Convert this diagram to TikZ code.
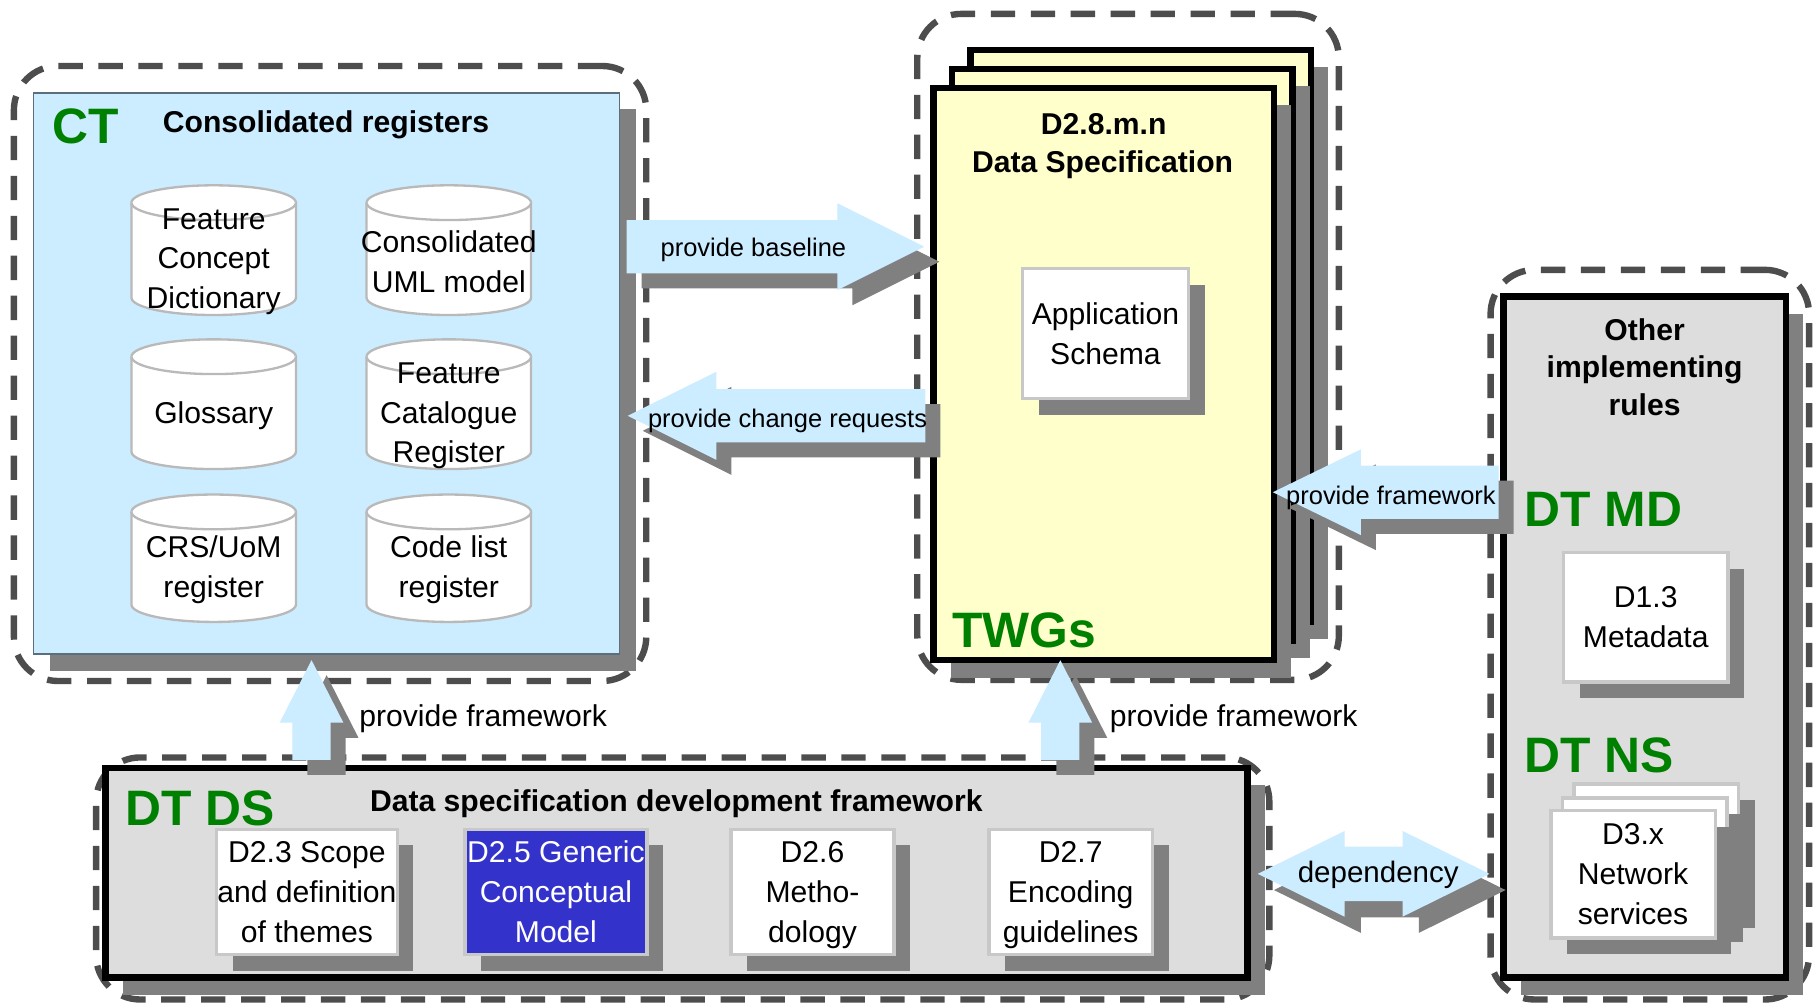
\documentclass[tikz,border=0pt]{standalone}
\usepackage{fontspec}
\setmainfont{Liberation Sans}
\usetikzlibrary{calc,shadows}
\definecolor{ctblue}{RGB}{204,236,255}
\definecolor{arrblue}{RGB}{204,236,255}
\definecolor{ctborder}{RGB}{90,110,125}
\definecolor{shgray}{RGB}{128,128,128}
\definecolor{dashgray}{RGB}{77,77,77}
\definecolor{boxgray}{RGB}{221,221,221}
\definecolor{pageyellow}{RGB}{255,255,204}
\definecolor{dsblue}{RGB}{51,51,204}
\definecolor{lbord}{RGB}{200,200,200}
\definecolor{cylbord}{RGB}{185,185,185}
\definecolor{grn}{RGB}{0,128,0}
\newcommand{\txt}{\fontsize{26}{34.5}\selectfont}
\newcommand{\btxt}{\fontsize{26}{32.5}\selectfont\bfseries}
\newcommand{\atxt}{\fontsize{22}{26}\selectfont}
\newcommand{\dtxt}{\fontsize{25.5}{30}\selectfont}
\newcommand{\gtxt}{\fontsize{43}{50}\selectfont\bfseries}

% single block arrow: #1 id, #2 tail, #3 tip, #4 body half, #5 head half, #6 head length, #7 style
\newcommand{\barrowpath}[7]{%
  \coordinate (#1h) at ($(#3)!#6!(#2)$);
  \path[#7] ($(#2)!#4!90:(#3)$) -- ($(#1h)!#4!90:(#3)$) -- ($(#1h)!#5!90:(#3)$) -- (#3)
    -- ($(#1h)!#5!-90:(#3)$) -- ($(#1h)!#4!-90:(#3)$) -- ($(#2)!#4!-90:(#3)$) -- cycle;}
\newcommand{\blockarrow}[6]{%
  \coordinate (#1ts) at ($(#2)+(13,13)$);
  \coordinate (#1ps) at ($(#3)+(13,13)$);
  \barrowpath{#1s}{#1ts}{#1ps}{#4}{#5}{#6}{fill=shgray}
  \barrowpath{#1}{#2}{#3}{#4}{#5}{#6}{fill=arrblue}}
% double block arrow
\newcommand{\dblpath}[7]{%
  \coordinate (#1a) at ($(#2)!#6!(#3)$);
  \coordinate (#1b) at ($(#3)!#6!(#2)$);
  \path[#7] (#2) -- ($(#1a)!#5!90:(#3)$) -- ($(#1a)!#4!90:(#3)$) -- ($(#1b)!#4!-90:(#2)$)
    -- ($(#1b)!#5!-90:(#2)$) -- (#3) -- ($(#1b)!#5!90:(#2)$) -- ($(#1b)!#4!90:(#2)$)
    -- ($(#1a)!#4!-90:(#3)$) -- ($(#1a)!#5!-90:(#3)$) -- cycle;}
% cylinder: #1 name, #2 centre x, #3 top, #4 bottom, #5 text
\newcommand{\regcyl}[5]{%
  \pgfmathsetmacro{\cylL}{#2-71}\pgfmathsetmacro{\cylR}{#2+71}%
  \pgfmathsetmacro{\cylT}{#3+15}\pgfmathsetmacro{\cylB}{#4-15}%
  \pgfmathsetmacro{\cylM}{(#3+#4)/2+10}%
  \filldraw[cylst] (\cylL,\cylT) -- (\cylL,\cylB) arc[start angle=180,end angle=0,x radius=71,y radius=15]
    -- (\cylR,\cylT) arc[start angle=0,end angle=-180,x radius=71,y radius=15] -- cycle;
  \draw[cylst] (\cylL,\cylT) arc[start angle=180,end angle=0,x radius=71,y radius=15];
  \node[cyltext] (#1) at (#2,\cylM) {#5};}

\begin{document}
\begin{tikzpicture}[x=1pt,y=-1pt,
  frame/.style={draw=dashgray,line width=5.5pt,dash pattern=on 21pt off 13.5pt,rounded corners=38pt,inner sep=0pt},
  sh/.style={drop shadow={shadow xshift=#1,shadow yshift=-#1,opacity=1,fill=shgray}},
  sz/.style 2 args={minimum width=#1,minimum height=#2},
  wbox/.style={draw=lbord,line width=3pt,fill=white,inner sep=0pt,align=center,font=\txt,sh=14pt},
  page/.style={draw=black,line width=5.5pt,fill=pageyellow,inner sep=0pt,sz={294pt}{494pt},sh=15pt},
  bigbox/.style={draw=black,line width=5.5pt,fill=boxgray,inner sep=0pt,sh=15pt},
  lbl/.style={inner sep=0pt,font=\txt},
  albl/.style={inner sep=0pt,font=\atxt},
  blbl/.style={inner sep=0pt,font=\btxt,align=center},
  glbl/.style={inner sep=0pt,font=\gtxt,text=grn,anchor=base west},
  cylst/.style={draw=cylbord,line width=2pt,fill=white},
  cyltext/.style={inner sep=0pt,font=\txt,align=center}]

\useasboundingbox (0,0) rectangle (1568,866);
\fill[white] (0,0) rectangle (1568,866);

% dashed group frames
\node[frame,sz={546pt}{531pt}] (ctframe) at (285,322.5) {};
\node[frame,sz={364pt}{575pt}] (twgframe) at (974,299.5) {};
\node[frame,sz={275pt}{630pt}] (oirframe) at (1424.5,548) {};
\node[frame,sz={1013pt}{209pt}] (dsframe) at (589.5,758.5) {};

% CT
\node[draw=ctborder,line width=1.5pt,fill=ctblue,inner sep=0pt,sz={506pt}{485pt},sh=14pt] (ct) at (282,322.5) {};
\node[glbl] (ctlbl) at (45,124) {CT};
\node[blbl,anchor=base] (cttitle) at (281.5,114) {Consolidated registers};
\regcyl{fcd}{184.5}{160}{272}{Feature\\Concept\\Dictionary}
\regcyl{uml}{387.5}{160}{272}{Consolidated\\UML model}
\regcyl{glo}{184.5}{293}{405}{Glossary}
\regcyl{fcr}{387.5}{293}{405}{Feature\\Catalogue\\Register}
\regcyl{crs}{184.5}{427}{537}{CRS/UoM\\register}
\regcyl{cod}{387.5}{427}{537}{Code list\\register}

% TWGs
\node[page] (pg3) at (985,290) {};
\node[page] (pg2) at (969,306.5) {};
\node[page] (pg1) at (953,323) {};
\node[blbl,anchor=base] (dsnum) at (953,116) {D2.8.m.n};
\node[blbl,anchor=base] (dsspec) at (952,149) {Data Specification};
\node[wbox,sz={143pt}{112pt}] (appschema) at (954.5,288) {Application\\Schema};
\node[glbl] (twgs) at (822,559) {TWGs};

% Other implementing rules
\node[bigbox,sz={244pt}{588pt}] (oir) at (1420,550) {};
\node[blbl] (oirtitle) at (1420,317) {Other\\implementing\\rules};
\node[glbl] (dtmd) at (1316,455) {DT MD};
\node[wbox,sz={142pt}{112pt}] (d13) at (1421,533) {D1.3\\Metadata};
\node[glbl] (dtns) at (1316,667) {DT NS};
\node[wbox,sz={142pt}{110pt}] (d3c) at (1430,732) {};
\node[wbox,sz={142pt}{110pt}] (d3b) at (1420,744) {};
\node[wbox,sz={142pt}{110pt}] (d3a) at (1410,755) {D3.x\\Network\\services};

% DT DS
\node[bigbox,sz={986pt}{181pt}] (ds) at (584,753.5) {};
\node[glbl] (dtds) at (108,713) {DT DS};
\node[blbl,anchor=base] (dstitle) at (584,700.5) {Data specification development framework};
\node[wbox,sz={156pt}{108pt}] (d23) at (265,770) {D2.3 Scope\\and definition\\of themes};
\node[wbox,sz={157pt}{108pt},fill=dsblue,text=white] (d25) at (480,770) {D2.5 Generic\\Conceptual\\Model};
\node[wbox,sz={141pt}{108pt},text depth=0pt] (d26) at (701.5,770) {D2.6\\Metho-\\dology};
\node[wbox,sz={141pt}{108pt},text depth=0pt] (d27) at (924.5,770) {D2.7\\Encoding\\guidelines};

% block arrows
\coordinate (pbA) at (541,213);
\coordinate (pbB) at (798,213);
\blockarrow{pb}{pbA}{pbB}{23pt}{37.5pt}{75pt}
\node[albl,anchor=base] (pblbl) at (650.5,221.5) {provide baseline};

\coordinate (crA) at (799,359);
\coordinate (crB) at (542,359);
\blockarrow{cr}{crA}{crB}{23pt}{38pt}{76.5pt}
\node[albl,anchor=base] (crlbl) at (680,369.5) {provide change requests};

\coordinate (rfA) at (1294,425);
\coordinate (rfB) at (1099,425);
\blockarrow{rf}{rfA}{rfB}{23pt}{37pt}{76pt}
\node[albl,anchor=base] (rflbl) at (1201,436) {provide framework};

\coordinate (ucA) at (269,656);
\coordinate (ucB) at (269,570);
\blockarrow{uc}{ucA}{ucB}{16.5pt}{27.5pt}{54pt}
\node[lbl,anchor=base west] (uclbl) at (310,627) {provide framework};

\coordinate (utA) at (915.5,656);
\coordinate (utB) at (915.5,570);
\blockarrow{ut}{utA}{utB}{16.5pt}{27.5pt}{54pt}
\node[lbl,anchor=base west] (utlbl) at (958,627) {provide framework};

\coordinate (depL) at (1086,754.5);
\coordinate (depR) at (1286,754.5);
\coordinate (depLs) at ($(depL)+(14,14)$);
\coordinate (depRs) at ($(depR)+(14,14)$);
\dblpath{deps}{depLs}{depRs}{23.5pt}{37pt}{75pt}{fill=shgray}
\dblpath{dep}{depL}{depR}{23.5pt}{37pt}{75pt}{fill=arrblue}
\node[inner sep=0pt,font=\dtxt,anchor=base] (deplbl) at (1190,762) {dependency};

\end{tikzpicture}
\end{document}
